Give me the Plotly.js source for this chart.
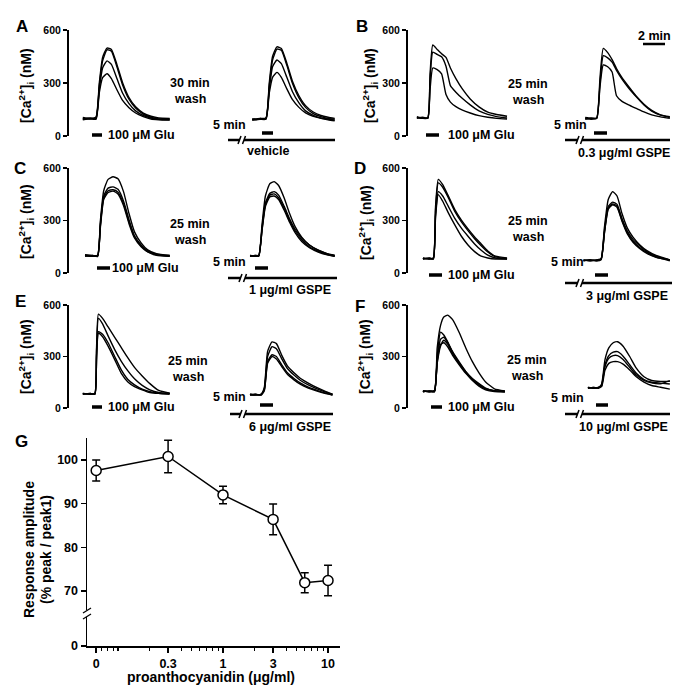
<!DOCTYPE html>
<html><head><meta charset="utf-8">
<script src="https://cdn.plot.ly/plotly-3.0.1.min.js"></script>
<style>html,body{margin:0;padding:0;background:#fff}#chart{width:685px;height:691px}</style>
</head><body><div id="chart"></div>
<script>
// ================= DATA =================
const panelLetters = ['A','B','C','D','E','F'];
const washLabels = ['30 min','25 min','25 min','25 min','25 min','25 min'];
const drugLabels = ['vehicle','0.3 \u03bcg/ml GSPE','1 \u03bcg/ml GSPE','3 \u03bcg/ml GSPE','6 \u03bcg/ml GSPE','10 \u03bcg/ml GSPE'];
const gluLabel = '100 \u03bcM Glu';
const caTicks = [0, 300, 600];

// time (min, on the panel's x scale) and [Ca2+]i (nM) traces
const tA_pre  = [1.3, 2.0, 2.5, 2.8, 3.1, 3.5, 3.9, 4.4, 4.9, 5.5, 6.1, 6.8, 7.5, 8.2, 9.2];
const A_pre = [
  [105, 100, 108, 300, 445, 498, 490, 405, 305, 218, 165, 130, 112, 102, 100],
  [95, 102, 98, 285, 425, 488, 480, 392, 292, 208, 158, 124, 106, 96, 96],
  [100, 96, 102, 265, 385, 425, 405, 325, 245, 183, 142, 116, 102, 95, 92],
  [92, 97, 95, 245, 330, 352, 325, 262, 203, 160, 130, 110, 96, 92, 90]];
const tA_post = [16.7, 17.4, 17.95, 18.25, 18.55, 18.95, 19.35, 19.85, 20.35, 20.95, 21.55, 22.25, 22.95, 23.6, 24.2];
const A_post = [
  [95, 100, 102, 300, 450, 505, 495, 412, 312, 228, 172, 136, 116, 106, 100],
  [90, 96, 97, 282, 430, 492, 485, 400, 300, 216, 162, 127, 110, 100, 95],
  [96, 94, 100, 262, 392, 430, 410, 332, 252, 187, 142, 117, 102, 96, 90],
  [90, 95, 95, 242, 332, 360, 332, 267, 207, 162, 131, 111, 100, 92, 86]];

const tB_pre  = [0.85, 1.4, 1.85, 2.05, 2.3, 2.7, 3.1, 3.5, 3.9, 4.4, 5.0, 5.7, 6.5, 7.3, 8.1, 9.05];
const B_pre = [
  [105, 100, 105, 350, 515, 490, 465, 445, 385, 325, 265, 210, 165, 135, 122, 112],
  [100, 106, 100, 320, 475, 462, 448, 395, 285, 248, 212, 176, 142, 122, 110, 102],
  [110, 100, 102, 262, 385, 376, 352, 235, 192, 166, 146, 130, 115, 106, 100, 96]];
const tB_post = [16.15, 16.7, 17.2, 17.5, 17.8, 18.2, 18.6, 19.0, 19.5, 20.1, 20.8, 21.5, 22.2, 23.0, 23.85];
const B_post = [
  [105, 100, 102, 330, 496, 472, 432, 382, 330, 280, 225, 180, 145, 120, 110],
  [100, 95, 100, 300, 455, 442, 418, 372, 322, 272, 222, 176, 141, 118, 105],
  [95, 102, 100, 280, 402, 392, 362, 228, 196, 176, 156, 136, 120, 108, 100]];

const tC_pre  = [1.5, 2.2, 2.65, 2.9, 3.2, 3.6, 4.05, 4.5, 5.0, 5.5, 6.0, 6.6, 7.2, 8.0, 9.2];
const C_pre = [
  [100, 95, 102, 300, 470, 535, 550, 538, 465, 340, 235, 172, 132, 110, 100],
  [95, 100, 95, 282, 440, 485, 492, 478, 412, 305, 212, 160, 126, 106, 100],
  [102, 96, 97, 272, 430, 470, 476, 462, 398, 292, 206, 156, 122, 104, 96],
  [105, 100, 100, 262, 420, 460, 468, 452, 386, 282, 200, 150, 120, 101, 95]];
const tC_post = [16.5, 17.0, 17.3, 17.6, 17.9, 18.3, 18.7, 19.1, 19.6, 20.1, 20.6, 21.2, 21.9, 22.7, 23.5, 24.2];
const C_post = [
  [100, 95, 100, 280, 440, 510, 522, 500, 430, 340, 265, 205, 160, 130, 110, 100],
  [95, 100, 95, 262, 400, 455, 465, 445, 382, 310, 250, 200, 160, 130, 110, 100],
  [100, 96, 100, 252, 390, 445, 452, 430, 370, 300, 240, 190, 150, 124, 106, 96],
  [96, 100, 100, 246, 380, 435, 440, 420, 360, 290, 230, 180, 145, 120, 104, 95]];

const tD_pre  = [1.4, 2.0, 2.35, 2.55, 2.8, 3.2, 3.7, 4.3, 4.9, 5.5, 6.1, 6.7, 7.3, 8.0, 9.05];
const D_pre = [
  [85, 80, 86, 380, 535, 505, 442, 362, 302, 252, 206, 166, 126, 96, 86],
  [80, 86, 80, 360, 515, 490, 432, 352, 292, 242, 196, 156, 120, 92, 82],
  [86, 80, 84, 330, 465, 440, 382, 312, 256, 210, 166, 130, 102, 86, 80],
  [80, 85, 80, 320, 448, 410, 345, 275, 210, 160, 122, 96, 86, 80, 80]];
const tD_post = [16.0, 16.6, 17.2, 17.6, 17.9, 18.25, 18.65, 19.05, 19.5, 20.0, 20.5, 21.1, 21.8, 22.6, 23.85];
const D_post = [
  [75, 70, 75, 80, 260, 420, 465, 440, 340, 255, 205, 162, 126, 100, 75],
  [70, 75, 70, 80, 240, 380, 405, 392, 312, 238, 192, 156, 121, 95, 75],
  [75, 70, 75, 80, 230, 370, 395, 382, 302, 228, 182, 146, 116, 91, 70],
  [70, 76, 70, 76, 225, 365, 390, 375, 296, 222, 176, 141, 111, 90, 75]];

const tE_pre  = [1.3, 2.0, 2.4, 2.55, 2.72, 3.1, 3.6, 4.2, 4.8, 5.4, 6.0, 6.7, 7.4, 8.2, 9.2];
const E_pre = [
  [85, 80, 86, 350, 547, 522, 472, 412, 352, 292, 237, 187, 142, 102, 86],
  [80, 85, 80, 330, 522, 490, 420, 340, 272, 216, 170, 132, 106, 90, 85],
  [85, 80, 85, 300, 445, 430, 380, 300, 222, 166, 135, 110, 95, 86, 80],
  [80, 85, 80, 290, 435, 415, 360, 282, 202, 152, 125, 106, 90, 85, 85]];
const tE_post = [16.5, 17.0, 17.5, 17.8, 18.1, 18.5, 18.9, 19.4, 19.9, 20.5, 21.1, 21.8, 22.6, 23.3, 24.0];
const E_post = [
  [80, 75, 80, 120, 330, 385, 375, 305, 245, 205, 172, 145, 118, 98, 80],
  [75, 80, 75, 110, 300, 357, 345, 285, 230, 192, 160, 135, 112, 94, 80],
  [80, 75, 80, 105, 270, 310, 300, 250, 205, 172, 145, 122, 103, 88, 76],
  [75, 80, 75, 100, 260, 300, 285, 240, 196, 164, 137, 116, 98, 85, 75]];

const tF_pre  = [1.4, 2.0, 2.45, 2.7, 3.0, 3.3, 3.65, 4.1, 4.7, 5.3, 5.9, 6.5, 7.1, 7.9, 8.85];
const F_pre = [
  [100, 95, 100, 350, 480, 530, 541, 515, 440, 350, 270, 205, 152, 112, 100],
  [95, 100, 95, 300, 442, 425, 385, 325, 262, 212, 172, 142, 116, 100, 95],
  [100, 95, 100, 280, 400, 412, 382, 328, 268, 212, 168, 136, 112, 101, 100],
  [95, 100, 95, 270, 370, 380, 357, 307, 252, 202, 162, 132, 110, 100, 95],
  [100, 96, 100, 260, 360, 395, 372, 317, 257, 207, 162, 127, 106, 96, 95]];
const tF_post = [16.4, 16.9, 17.35, 17.65, 17.95, 18.3, 18.7, 19.1, 19.6, 20.2, 20.8, 21.5, 22.2, 23.0, 23.85];
const F_post = [
  [115, 120, 116, 140, 280, 350, 380, 386, 360, 300, 232, 182, 160, 155, 155],
  [120, 115, 120, 135, 250, 305, 325, 328, 302, 252, 202, 166, 150, 145, 140],
  [115, 120, 115, 130, 240, 290, 305, 305, 282, 237, 192, 161, 146, 141, 160],
  [120, 115, 120, 125, 220, 260, 270, 270, 256, 222, 182, 151, 131, 121, 110]];

// Panel G: dose-response
const doses = [0, 0.3, 1, 3, 6, 10];
const amplitude = [97.6, 100.8, 92.0, 86.4, 71.9, 72.4];
const amplitudeErr = [2.4, 3.7, 2.0, 3.5, 2.3, 3.5];
const doseTickLabels = ['0', '0.3', '1', '3', '10'];
const ampTickLabels = ['0', '70', '80', '90', '100'];

// ================= DRAWING =================
const FONT = 'Liberation Sans, Arial, Helvetica, sans-serif';
const W = 685, H = 691;
const px = x => x / W, py = y => 1 - y / H;
const f = (s) => ({family: FONT, size: s, color: '#000', weight: 700});

const series = [[tA_pre, A_pre, tA_post, A_post], [tB_pre, B_pre, tB_post, B_post],
                [tC_pre, C_pre, tC_post, C_post], [tD_pre, D_pre, tD_post, D_post],
                [tE_pre, E_pre, tE_post, E_post], [tF_pre, F_pre, tF_post, F_post]];

// layout positions (pixels)
const pos = [
 {ax:68.5, y0:136, y600:30, letter:[22,27], ytitle:[26,86], glu:[92,102,135], gluText:[106,135], wash:[190,91], five:[229,125], dbar:[262,273,133], line:[228,335,140], brk:242, dlab:[268,151,'center']},
 {ax:407.5, y0:136, y600:30, letter:[362,27], ytitle:[370,86], glu:[426,439,135], gluText:[446,135], wash:[528,92], five:[570,125], dbar:[594,607,133], line:[565,670,140], brk:580, dlab:[672,153,'right']},
 {ax:68.5, y0:273, y600:168, letter:[20,168], ytitle:[26,222], glu:[97,110,268], gluText:[110,268], wash:[190,232], five:[230,262], dbar:[255,268,268], line:[228,337,278], brk:243, dlab:[333,290,'right']},
 {ax:407.5, y0:273, y600:168, letter:[360,168], ytitle:[366,222], glu:[429,442,275], gluText:[446,275], wash:[528,229], five:[567,262], dbar:[595,608,275], line:[565,672,283], brk:580, dlab:[670,296,'right']},
 {ax:68.5, y0:408, y600:305, letter:[20,301], ytitle:[26,357], glu:[92,102,407], gluText:[106,407], wash:[188,369], five:[230,397], dbar:[260,273,405], line:[230,333,414], brk:243, dlab:[333,427,'right']},
 {ax:407.5, y0:408, y600:305, letter:[360,306], ytitle:[365,357], glu:[431,442,407], gluText:[446,407], wash:[527,368], five:[567,398], dbar:[596,608,405], line:[565,670,414], brk:580, dlab:[670,427,'right']}
];

const data = [];
const layout = {
  width: W, height: H, margin: {l:0, r:0, t:0, b:0}, autosize: false,
  paper_bgcolor: '#fff', plot_bgcolor: 'rgba(0,0,0,0)', showlegend: false,
  font: f(12), shapes: [], annotations: []
};
const seg = (x0, y0, x1, y1, w) => ({type:'line', xref:'paper', yref:'paper',
  x0: px(x0), y0: py(y0), x1: px(x1), y1: py(y1), line: {color:'#000', width: w}});
const txt = (text, x, y, size, opts) => Object.assign({text, x: px(x), y: py(y), xref:'paper', yref:'paper',
  showarrow:false, xanchor:'center', yanchor:'middle', font: f(size)}, opts || {});

series.forEach((s, i) => {
  const sfx = i === 0 ? '' : String(i + 1);
  const p = pos[i];
  [[s[0], s[1]], [s[2], s[3]]].forEach(([t, group]) => {
    group.forEach(vals => data.push({
      x: t, y: vals, mode: 'lines', xaxis: 'x' + sfx, yaxis: 'y' + sfx,
      line: {color: '#000', width: 1.4, shape: 'spline', smoothing: 0.5},
      hoverinfo: 'skip'
    }));
  });
  layout['xaxis' + sfx] = {domain: [px(p.ax), px(p.ax + 275)], range: [0, 25], visible: false,
    anchor: 'y' + sfx, fixedrange: true};
  layout['yaxis' + sfx] = {domain: [py(p.y0), py(p.y600)], range: [0, 600], anchor: 'x' + sfx,
    tickvals: caTicks, ticks: 'outside', ticklen: 4, tickwidth: 1.5, tickcolor: '#000',
    showline: true, linewidth: 1.5, linecolor: '#000', showgrid: false, zeroline: false,
    tickfont: f(10.5), fixedrange: true};
  // stimulus bars and drug line
  layout.shapes.push(seg(p.glu[0], p.glu[2], p.glu[1], p.glu[2], 3.5));
  layout.shapes.push(seg(p.dbar[0], p.dbar[2], p.dbar[1], p.dbar[2], 3.5));
  layout.shapes.push(seg(p.line[0], p.line[2], p.brk - 2, p.line[2], 2.5));
  layout.shapes.push(seg(p.brk + 2, p.line[2], p.line[1], p.line[2], 2.5));
  layout.shapes.push(seg(p.brk - 4, p.line[2] + 4, p.brk - 1, p.line[2] - 4, 1.5));
  layout.shapes.push(seg(p.brk + 0.5, p.line[2] + 4, p.brk + 3.5, p.line[2] - 4, 1.5));
  // texts
  layout.annotations.push(txt(panelLetters[i], p.letter[0], p.letter[1], 17));
  layout.annotations.push(txt('[Ca<sup>2+</sup>]<sub>i</sub> (nM)', p.ytitle[0], p.ytitle[1], 14, {textangle: -90}));
  layout.annotations.push(txt(gluLabel, p.gluText[0], p.gluText[1], 12.5, {xanchor: 'left'}));
  layout.annotations.push(txt(washLabels[i], p.wash[0], p.wash[1] - 8, 12.5));
  layout.annotations.push(txt('wash', p.wash[0], p.wash[1] + 8, 12.5));
  layout.annotations.push(txt('5 min', p.five[0], p.five[1], 12.5));
  layout.annotations.push(txt(drugLabels[i], p.dlab[0], p.dlab[1], 12.5, {xanchor: p.dlab[2]}));
});
// 2 min scale bar
layout.shapes.push(seg(643, 44, 665, 44, 2.5));
layout.annotations.push(txt('2 min', 654, 36, 12.5));

// ---- Panel G ----
const zeroPos = 0.062; // plotting position of the "0" dose on the log axis
const gx = doses.map(d => d === 0 ? zeroPos : d);
data.push({
  x: gx, y: amplitude, xaxis: 'x7', yaxis: 'y7', mode: 'lines+markers',
  line: {color: '#000', width: 1.5},
  marker: {symbol: 'circle', size: 10, color: '#fff', line: {color: '#000', width: 1.5}},
  error_y: {type: 'data', array: amplitudeErr, visible: true, color: '#000', thickness: 1.5, width: 4},
  hoverinfo: 'skip', cliponaxis: false
});
const yBottom = 57.4; // axis-break: position where "0" is drawn
layout.xaxis7 = {type: 'log', domain: [px(87), px(340)], range: [-1.295, 1.114], anchor: 'y7',
  tickvals: [zeroPos, 0.3, 1, 3, 10], ticktext: doseTickLabels,
  ticks: 'outside', ticklen: 5, tickwidth: 1.5, tickcolor: '#000',
  minor: {tickvals: [0.07, 0.08, 0.09, 0.1, 0.2, 0.4, 0.5, 0.6, 0.7, 0.8, 0.9, 2, 4, 5, 6, 7, 8, 9],
          ticks: 'outside', ticklen: 3, tickwidth: 1.2, tickcolor: '#000', showgrid: false},
  showline: true, linewidth: 1.5, linecolor: '#000', showgrid: false, zeroline: false,
  tickfont: f(12.5), fixedrange: true};
layout.yaxis7 = {domain: [py(646), py(438)], range: [yBottom, 105.04], anchor: 'x7',
  tickvals: [yBottom, 70, 80, 90, 100], ticktext: ampTickLabels,
  ticks: 'outside', ticklen: 5, tickwidth: 1.5, tickcolor: '#000',
  showline: true, linewidth: 1.5, linecolor: '#000', showgrid: false, zeroline: false,
  tickfont: f(12.5), fixedrange: true};
// axis break on y
layout.shapes.push({type:'rect', xref:'paper', yref:'paper', x0: px(84), x1: px(90.5), y0: py(617), y1: py(610),
  fillcolor:'#fff', line:{width:0}, layer:'above'});
layout.shapes.push(seg(83, 613, 91, 608, 1.3));
layout.shapes.push(seg(83, 619, 91, 614, 1.3));
layout.annotations.push(txt('G', 21, 442, 17));
layout.annotations.push(txt('Response amplitude', 29, 550, 14, {textangle: -90}));
layout.annotations.push(txt('(% peak / peak1)', 46, 550, 14, {textangle: -90}));
layout.annotations.push(txt('proanthocyanidin (\u03bcg/ml)', 211, 677, 14));

Plotly.newPlot('chart', data, layout, {staticPlot: true, displayModeBar: false});
</script></body></html>
